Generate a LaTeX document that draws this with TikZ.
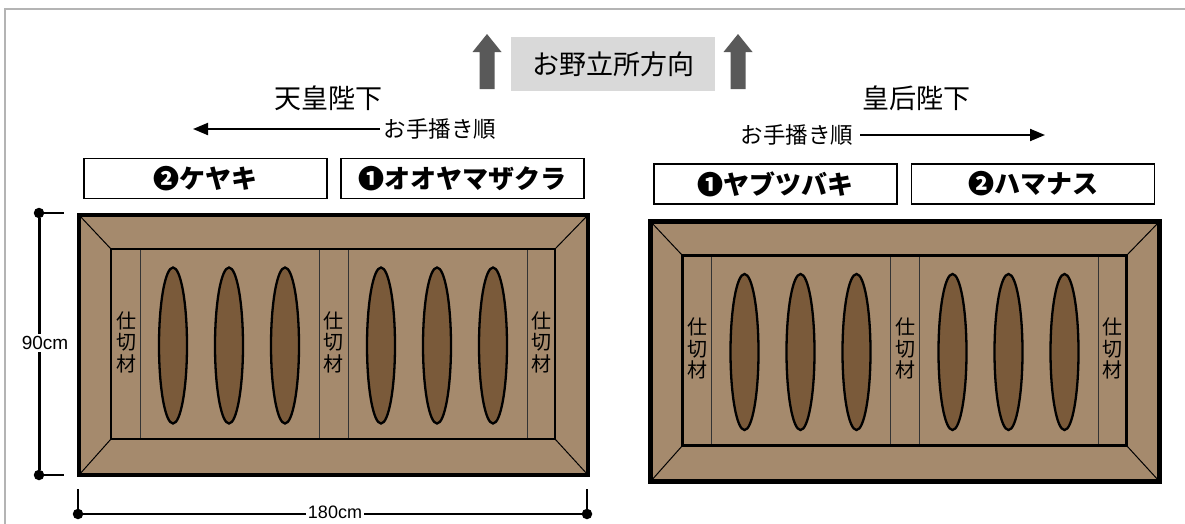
\documentclass[tikz,border=0pt]{standalone}
\usepackage{fontspec}
\setmainfont{Liberation Sans}
\newfontfamily\jp{Noto Sans CJK JP}
\usetikzlibrary{arrows.meta}
\definecolor{matlight}{HTML}{A58A6D}
\definecolor{matdark}{HTML}{7A5A3A}
\definecolor{boxgray}{HTML}{D9D9D9}
\definecolor{arrgray}{HTML}{595959}
\definecolor{framegray}{HTML}{B4B4B4}
\definecolor{partgray}{HTML}{333333}
\tikzset{
  thinline/.style={line width=1pt, black},
  partline/.style={line width=1pt, partgray},
  seed/.style={line width=2.3pt, fill=matdark},
  partlabel/.style={inner sep=0pt, align=center, font=\jp\fontsize{20}{21.5}\selectfont},
  namebox/.style={draw, line width=1.2pt, minimum width=243pt, minimum height=40pt, inner sep=0pt, font=\jp\bfseries\fontsize{26}{26}\selectfont},
  titletext/.style={inner sep=0pt, font=\jp\fontsize{27}{27}\selectfont},
  ordertext/.style={inner sep=4pt, font=\jp\fontsize{22.5}{22.5}\selectfont},
  orderarrow/.style={line width=2pt, -{Triangle[length=15pt,width=12pt]}},
  dimtext/.style={fill=white, inner sep=2pt, font=\fontsize{19}{19}\selectfont},
  dimdot/.style={circle, fill=black, minimum size=10.5pt, inner sep=0pt},
}
\newcommand\MatBox[3]{%
\begin{scope}[shift={(#2,#3)}]
  \fill[matlight] (79,215) rectangle (588,475);
  \draw[thinline] (79,215) -- (111,249) (588,215) -- (555,249)
                  (79,475) -- (111,439) (588,475) -- (555,439);
  \draw[partline] (140,249) -- (140,439) (319,249) -- (319,439)
                  (348,249) -- (348,439) (527,249) -- (527,439);
  \draw[line width=2.8pt] (111,249) rectangle (555,439);
  \foreach \ex in {173,229,285,381,437,493}
    \draw[seed] (\ex,345.5) ellipse [x radius=14pt, y radius=78pt];
  \node[partlabel] (#1a) at (126,342) {仕\\切\\材};
  \node[partlabel] (#1b) at (333.5,342) {仕\\切\\材};
  \node[partlabel] (#1c) at (541,342) {仕\\切\\材};
  \draw[line width=4.5pt] (79,215) rectangle (588,475);
\end{scope}}
\begin{document}
\begin{tikzpicture}[x=1pt,y=-1pt]
\useasboundingbox (0,0) rectangle (1185,523);
\clip (0,0) rectangle (1185,523);
% frame
\draw[framegray, line width=2pt] (5,530) -- (5,9) -- (1190,9);
% direction
\node[fill=boxgray, minimum width=204pt, minimum height=54pt, inner sep=0pt,
      font=\jp\fontsize{27}{27}\selectfont] (dir) at (613,64) {お野立所方向};
\foreach \cx in {487,738}
  \fill[arrgray] (\cx-7.5,89) -- (\cx-7.5,52) -- (\cx-14.5,52) -- (\cx,34)
                 -- (\cx+14.5,52) -- (\cx+7.5,52) -- (\cx+7.5,89) -- cycle;
% titles
\node[titletext] (emp) at (328,98) {天皇陛下};
\node[titletext] (qun) at (916.5,98) {皇后陛下};
% order
\node[ordertext] (ordl) at (440,129) {お手播き順};
\coordinate (ordlend) at (193,129);
\draw[orderarrow] (ordl.west) -- (ordlend);
\node[ordertext] (ordr) at (797,135) {お手播き順};
\coordinate (ordrend) at (1045,135);
\draw[orderarrow, shorten <=3pt] (ordr.east) -- (ordrend);
% name boxes
\node[namebox] (nb1) at (205.5,178.5) {❷ケヤキ};
\node[namebox] (nb2) at (462.5,178.5) {❶オオヤマザクラ};
\node[namebox] (nb3) at (775.5,184) {❶ヤブツバキ};
\node[namebox] (nb4) at (1033,184) {❷ハマナス};
% mats
\MatBox{L}{0}{0}
\MatBox{R}{571.5}{6.5}
% vertical dimension
\node[dimdot] (vt) at (39,213) {};
\node[dimdot] (vb) at (39,475) {};
\coordinate (vtt) at (64,213);
\coordinate (vbt) at (64,475);
\draw[line width=1.2pt] (vt) -- (vtt) (vb) -- (vbt);
\draw[line width=3pt] (vt) -- (vb);
\node[dimtext] (v90) at (45,343) {90cm};
% horizontal dimension
\node[dimdot] (hl) at (78,514) {};
\node[dimdot] (hr) at (587,514) {};
\coordinate (hlt) at (78,489);
\coordinate (hrt) at (587,489);
\draw[line width=1.2pt] (hl) -- (hlt) (hr) -- (hrt);
\draw[line width=2.2pt] (hl) -- (hr);
\node[dimtext, anchor=base, inner ysep=0pt, font=\fontsize{18}{18}\selectfont] (h180) at (335,518) {180cm};
\end{tikzpicture}
\end{document}
